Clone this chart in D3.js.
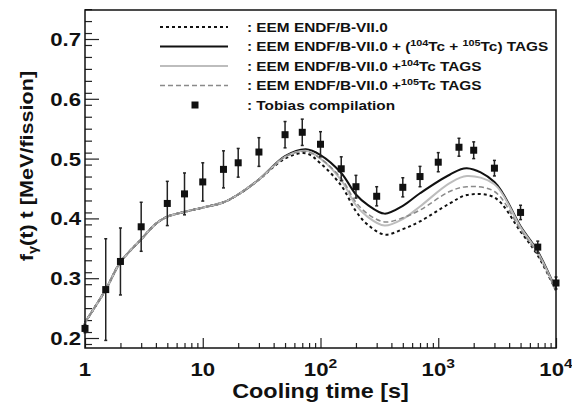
<!DOCTYPE html>
<html>
<head>
<meta charset="utf-8">
<script src="https://cdn.jsdelivr.net/npm/d3@7"></script>
<style>
  body { margin: 0; background: #fff; }
  text { font-family: "Liberation Sans", Arial, sans-serif; font-weight: bold; fill: #111; }
</style>
</head>
<body>
<div id="wrapper"></div>
<script>
// cooling time grid for the calculated curves
const curveTimes = [1, 1.5, 2, 3, 4, 5, 7, 10, 15, 20, 30, 50, 75, 100, 150, 200, 250, 350, 500, 700, 1250, 1750, 3000, 5000, 7000, 10000];
const early = [0.226, 0.281, 0.327, 0.365, 0.391, 0.403, 0.411, 0.418, 0.427, 0.440, 0.465];
const endfBase = early.concat([0.500, 0.509, 0.492, 0.455, 0.412, 0.390, 0.373, 0.382, 0.395, 0.425, 0.439, 0.435, 0.378, 0.338, 0.279]);
const endfBoth = early.concat([0.504, 0.5155, 0.506, 0.476, 0.440, 0.423, 0.408, 0.421, 0.442, 0.473, 0.484, 0.461, 0.387, 0.345, 0.281]);
const endf104 = early.concat([0.503, 0.513, 0.500, 0.464, 0.422, 0.403, 0.388, 0.399, 0.420, 0.459, 0.471, 0.457, 0.385, 0.343, 0.280]);
const endf105 = early.concat([0.503, 0.512, 0.500, 0.467, 0.427, 0.408, 0.394, 0.401, 0.414, 0.445, 0.453, 0.445, 0.381, 0.340, 0.279]);

// Tobias compilation
const tobiasT = [1, 1.5, 2, 3, 5, 7, 10, 15, 20, 30, 50, 70, 100, 150, 200, 300, 500, 700, 1000, 1500, 2000, 3000, 5000, 7000, 10000];
const tobiasV = [0.216, 0.281, 0.328, 0.386, 0.425, 0.441, 0.461, 0.482, 0.493, 0.511, 0.540, 0.544, 0.524, 0.483, 0.453, 0.437, 0.452, 0.470, 0.494, 0.519, 0.514, 0.484, 0.410, 0.352, 0.292];
const tobiasErr = [0.007, 0.085, 0.056, 0.041, 0.037, 0.035, 0.032, 0.031, 0.024, 0.024, 0.022, 0.022, 0.021, 0.020, 0.019, 0.016, 0.016, 0.017, 0.016, 0.015, 0.014, 0.013, 0.012, 0.010, 0.010];

const yTicks = [0.2, 0.3, 0.4, 0.5, 0.6, 0.7];
const xTicks = [1, 10, 100, 1000, 10000];
const xTickLabels = [["1", ""], ["10", ""], ["10", "2"], ["10", "3"], ["10", "4"]];

const series = [
    { values: endfBase, color: "#111", width: 2, dash: "3,3",
      label: [[": EEM ENDF/B-VII.0", false]] },
    { values: endfBoth, color: "#111", width: 2, dash: null,
      label: [[": EEM ENDF/B-VII.0 + (", false], ["104", true], ["Tc + ", false], ["105", true], ["Tc) TAGS", false]] },
    { values: endf104, color: "#bdbdbd", width: 2, dash: null,
      label: [[": EEM ENDF/B-VII.0 +", false], ["104", true], ["Tc TAGS", false]] },
    { values: endf105, color: "#8a8a8a", width: 1.5, dash: "5,3",
      label: [[": EEM ENDF/B-VII.0 +", false], ["105", true], ["Tc TAGS", false]] },
];

const stretch = 1.2;

const dimensions = {
    width: 572,
    height: 405,
    margin: { top: 10, right: 16, bottom: 57, left: 85 },
};
dimensions.boundedWidth = dimensions.width - dimensions.margin.left - dimensions.margin.right;
dimensions.boundedHeight = dimensions.height - dimensions.margin.top - dimensions.margin.bottom;

const wrapper = d3.select("#wrapper")
    .append("svg")
    .attr("width", dimensions.width)
    .attr("height", dimensions.height);

const bounds = wrapper.append("g")
    .attr("transform", `translate(${dimensions.margin.left}, ${dimensions.margin.top})`);

const xScale = d3.scaleLog()
    .domain([1, 10000])
    .range([0, dimensions.boundedWidth]);

const yScale = d3.scaleLinear()
    .domain([0.1833, 0.7485])
    .range([dimensions.boundedHeight, 0]);

// text helper: glyphs are a bit wider than plain Helvetica in the original
function addText(parent, x, y, size, anchor, rotate) {
    return parent.append("text")
        .attr("transform", `translate(${x},${y})` + (rotate ? ` rotate(${rotate})` : "") + ` scale(${stretch},1)`)
        .attr("text-anchor", anchor)
        .style("font-size", size + "px");
}

// axes (ticks inside the frame)
const yMajor = d3.axisLeft(yScale).tickValues(yTicks).tickSize(-14).tickFormat("");
const yMinor = d3.axisLeft(yScale).tickValues(d3.range(0.19, 0.75, 0.02).filter(v => Math.abs(v * 10 - Math.round(v * 10)) > 0.01)).tickSize(-7).tickFormat("");
bounds.append("g").call(yMajor).call(g => g.select(".domain").remove());
bounds.append("g").call(yMinor).call(g => g.select(".domain").remove());

const minorX = [];
xTicks.slice(0, -1).forEach(d => { for (let k = 2; k < 10; k++) minorX.push(d * k); });
const xMajor = d3.axisBottom(xScale).tickValues(xTicks).tickSize(-10).tickFormat("");
const xMinor = d3.axisBottom(xScale).tickValues(minorX).tickSize(-5).tickFormat("");
bounds.append("g").attr("transform", `translate(0,${dimensions.boundedHeight})`).call(xMajor).call(g => g.select(".domain").remove());
bounds.append("g").attr("transform", `translate(0,${dimensions.boundedHeight})`).call(xMinor).call(g => g.select(".domain").remove());
bounds.selectAll(".tick line").attr("stroke", "#222").attr("stroke-width", 1.2);

// tick labels
yTicks.forEach(v => {
    addText(bounds, -4, yScale(v) + 7, 18.5, "end").text(d3.format(".1f")(v));
});
xTicks.forEach((v, i) => {
    const t = addText(bounds, xScale(v), dimensions.boundedHeight + 28, 18.5, "middle");
    t.append("tspan").text(xTickLabels[i][0]);
    if (xTickLabels[i][1]) {
        t.append("tspan").attr("dy", -8).style("font-size", "13px").text(xTickLabels[i][1]);
    }
});

// axis titles
addText(bounds, dimensions.boundedWidth / 2, dimensions.boundedHeight + 50, 19.5, "middle")
    .text("Cooling time [s]");
const yTitle = addText(wrapper, 33, 166, 18, "middle", -90);
yTitle.append("tspan").text("f");
yTitle.append("tspan").attr("dy", 4).style("font-size", "12px").text("γ");
yTitle.append("tspan").attr("dy", -4).text("(t) t [MeV/fission]");

// curves
const lineGenerator = d3.line()
    .x((d, i) => xScale(curveTimes[i]))
    .y(d => yScale(d))
    .curve(d3.curveCatmullRom.alpha(0.5));

series.forEach(s => {
    bounds.append("path")
        .attr("d", lineGenerator(s.values))
        .attr("fill", "none")
        .attr("stroke", s.color)
        .attr("stroke-width", s.width)
        .attr("stroke-dasharray", s.dash);
});

// data points with error bars
const points = bounds.selectAll(".point")
    .data(tobiasT.map((t, i) => ({ t, v: tobiasV[i], e: tobiasErr[i] })))
    .enter().append("g")
    .attr("class", "point");

points.append("line")
    .attr("x1", d => xScale(d.t)).attr("x2", d => xScale(d.t))
    .attr("y1", d => yScale(d.v + d.e)).attr("y2", d => yScale(d.v - d.e))
    .attr("stroke", "#222").attr("stroke-width", 1.5);
[1, -1].forEach(sign => {
    points.append("line")
        .attr("x1", d => xScale(d.t) - 1.5).attr("x2", d => xScale(d.t) + 1.5)
        .attr("y1", d => yScale(d.v + sign * d.e)).attr("y2", d => yScale(d.v + sign * d.e))
        .attr("stroke", "#222").attr("stroke-width", 1.5);
});
points.append("rect")
    .attr("x", d => xScale(d.t) - 3.5)
    .attr("y", d => yScale(d.v) - 3.5)
    .attr("width", 7).attr("height", 7)
    .attr("fill", "#111");

// frame
bounds.append("rect")
    .attr("width", dimensions.boundedWidth)
    .attr("height", dimensions.boundedHeight)
    .attr("fill", "none")
    .attr("stroke", "#111")
    .attr("stroke-width", 1.5);

// legend
const legend = wrapper.append("g").attr("transform", "translate(160, 27)");
const rowStep = 19.5;
series.forEach((s, i) => {
    legend.append("line")
        .attr("x1", 0).attr("x2", 68)
        .attr("y1", i * rowStep).attr("y2", i * rowStep)
        .attr("stroke", s.color)
        .attr("stroke-width", s.width)
        .attr("stroke-dasharray", s.dash);
    const t = addText(legend, 87, i * rowStep + 4.5, 12.8, "start");
    s.label.forEach(([str, sup]) => {
        if (sup) {
            t.append("tspan").attr("dy", -5).style("font-size", "9px").text(str);
        } else {
            const ts = t.append("tspan").text(str);
            if (t.selectAll("tspan").size() > 1) ts.attr("dy", 5);
        }
    });
});
legend.append("rect")
    .attr("x", 35 - 3.5).attr("y", 4 * rowStep - 3.5)
    .attr("width", 7).attr("height", 7)
    .attr("fill", "#111");
addText(legend, 87, 4 * rowStep + 4.5, 12.8, "start").text(": Tobias compilation");
</script>
</body>
</html>
